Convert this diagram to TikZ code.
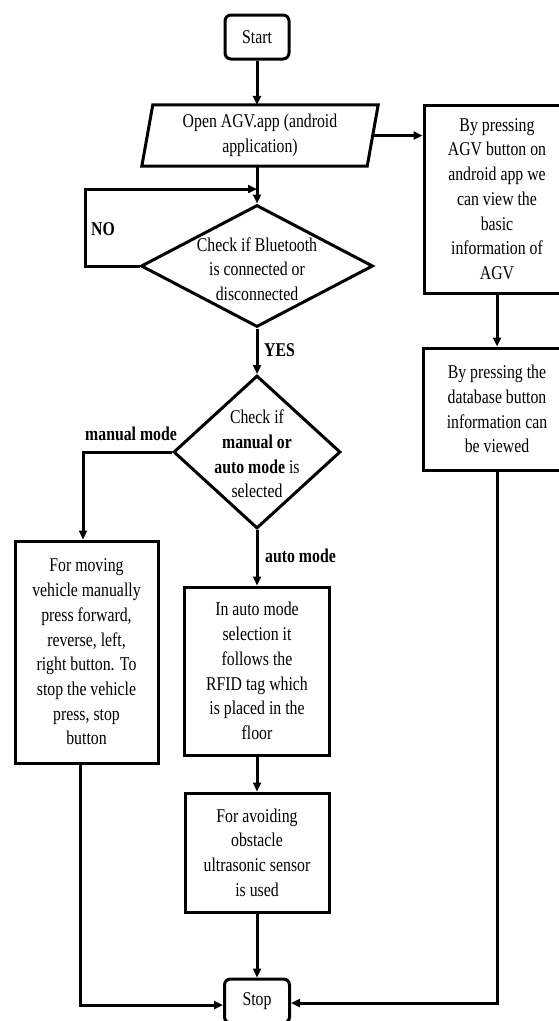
\documentclass[tikz,border=0pt]{standalone}
\usepackage{fontspec}
\setmainfont{Liberation Serif}[FakeStretch=0.81]
\usetikzlibrary{shapes.geometric,arrows.meta}
\begin{document}
\begin{tikzpicture}[x=1pt,y=-1pt,
  every node/.style={font=\fontsize{19.5}{24.7}\selectfont},
  ln/.style={line width=3pt},
  arr/.style={line width=3pt,-{Triangle[length=9pt,width=8pt]}},
  box/.style={draw,line width=3pt,align=center,inner sep=0pt},
  term/.style={box,rounded corners=6pt},
  dia/.style={draw,diamond,line width=3pt,inner sep=0pt},
  txt/.style={align=center,inner sep=0pt},
  lbl/.style={font=\fontsize{19.5}{24.7}\selectfont\bfseries,inner sep=0pt,anchor=west}
]
\fill[white] (0,0) rectangle (558,1021);
\useasboundingbox (0,0) rectangle (558,1021);

% nodes
\node[term,minimum width=64,minimum height=44] (start) at (257,37) {Start};
\node[txt,minimum width=225,minimum height=61] (open) at (260,135.5) {Open AGV.app (android\\application)};
\draw[ln,line join=miter] ([xshift=5.5pt]open.north west) -- ([xshift=5.5pt]open.north east)
  -- ([xshift=-5.5pt]open.south east) -- ([xshift=-5.5pt]open.south west) -- cycle;

\node[box,minimum width=146,minimum height=188] (box1) at (497,199)
  {By pressing\\AGV button on\\android app we\\can view the\\basic\\information of\\AGV};
\node[box,minimum width=148,minimum height=122] (box2) at (497,409)
  {By pressing the\\database button\\information can\\be viewed};

\node[dia,minimum width=232,minimum height=122] (d1) at (257,266) {};
\node[txt] (d1t) at (257,269) {Check if Bluetooth\\is connected or\\disconnected};

\node[dia,minimum width=167,minimum height=153] (d2) at (257,452) {};
\node[txt] (d2t) at (257,454) {Check if\\\textbf{manual or}\\\textbf{auto mode} is\\selected};

\node[box,minimum width=143,minimum height=222] (left) at (86.5,652)
  {For moving\\vehicle manually\\press forward,\\reverse, left,\\right button. To\\stop the vehicle\\press, stop\\button};
\node[box,minimum width=145,minimum height=168] (box3) at (257,671)
  {In auto mode\\selection it\\follows the\\RFID tag which\\is placed in the\\floor};
\node[box,minimum width=144,minimum height=119] (box4) at (257,852.5)
  {For avoiding\\obstacle\\ultrasonic sensor\\is used};
\node[term,minimum width=65,minimum height=44] (stop) at (257,1001) {Stop};

% labels
\node[lbl] (no) at (91,229) {NO};
\node[lbl] (yes) at (264,350) {YES};
\node[lbl] (man) at (85,434) {manual mode};
\node[lbl] (auto) at (265,556) {auto mode};

\coordinate (join) at (257,189);

% connectors
\draw[arr] (start.south) -- (start.south |- open.north);
\draw[arr] (open.east) -- (open.east -| box1.west);
\draw[arr] (box1.south) -- (box2.north);
\draw[arr] (open.south -| d1.north) -- (d1.north);
\draw[arr] (d1.west) -- ++(-54,0) |- (join);
\draw[arr] (d1.south) -- (d2.north);
\draw[arr] (d2.west) -| ([xshift=-3.5pt]left.north);
\draw[arr] (d2.south) -- (box3.north);
\draw[arr] (box3.south) -- (box4.north);
\draw[arr] (box4.south) -- (stop.north);
\draw[arr] ([xshift=-6.5pt]left.south) |- ([yshift=-4pt]stop.west);
\draw[arr] (box2.south) |- ([yshift=-2pt]stop.east);
\end{tikzpicture}
\end{document}
